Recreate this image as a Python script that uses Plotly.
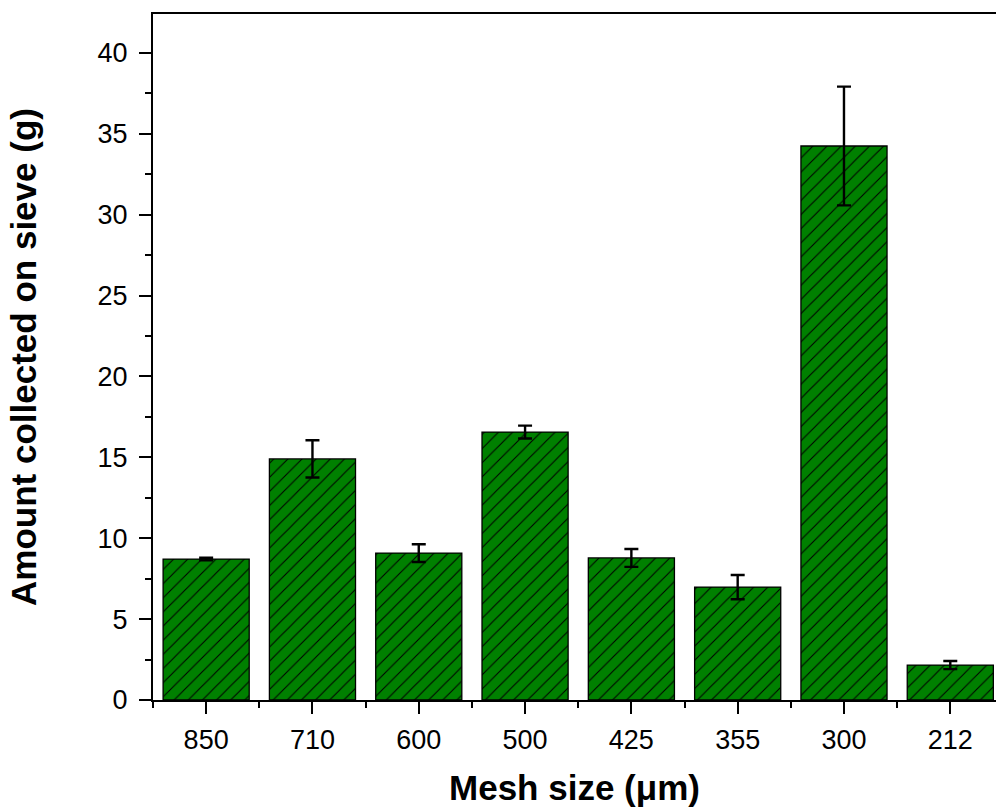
import plotly.graph_objects as go

# Sieve analysis: mass retained on each sieve
mesh_sizes = ["850", "710", "600", "500", "425", "355", "300", "212"]
amount_g = [8.71, 14.90, 9.08, 16.56, 8.78, 6.98, 34.24, 2.16]
amount_err = [0.08, 1.15, 0.55, 0.40, 0.55, 0.75, 3.67, 0.25]

positions = list(range(len(mesh_sizes)))

fig = go.Figure()
fig.add_trace(go.Bar(
    x=positions,
    y=amount_g,
    width=0.81,
    marker=dict(
        color="#008000",
        line=dict(color="black", width=1.3),
        pattern=dict(shape="/", bgcolor="#008000", fgcolor="black",
                     size=10, solidity=0.1, fillmode="replace"),
    ),
    error_y=dict(type="data", array=amount_err, color="black",
                 thickness=2.4, width=7),
    showlegend=False,
))

fig.update_layout(
    width=996, height=807,
    margin=dict(l=153, r=0, t=14, b=107),
    plot_bgcolor="white", paper_bgcolor="white",
    font=dict(family="Liberation Sans, Arial, sans-serif", color="black", size=27),
)

fig.update_xaxes(
    range=[-0.5, 7.43],
    tickmode="array", tickvals=positions, ticktext=mesh_sizes,
    ticks="outside", ticklen=12, tickwidth=2, tickcolor="black",
    minor=dict(tickmode="linear", tick0=0.5, dtick=1, ticks="outside",
               ticklen=6, tickwidth=2, tickcolor="black"),
    showline=True, linecolor="black", linewidth=2, mirror=True,
    showgrid=False, zeroline=False,
    tickfont=dict(size=27),
    ticklabelstandoff=3,
    title=dict(text="<b>Mesh size (μm)</b>", font=dict(size=35), standoff=22),
)

fig.update_yaxes(
    range=[0, 42.4],
    tickmode="linear", tick0=0, dtick=5,
    ticks="outside", ticklen=12, tickwidth=2, tickcolor="black",
    minor=dict(tickmode="linear", tick0=0, dtick=2.5, ticks="outside",
               ticklen=6, tickwidth=2, tickcolor="black"),
    showline=True, linecolor="black", linewidth=2,
    showgrid=False, zeroline=False,
    tickfont=dict(size=27),
    ticklabelstandoff=6,
    title=dict(text="<b>Amount collected on sieve (g)</b>", font=dict(size=35), standoff=50),
)

fig.write_html("out.html")
